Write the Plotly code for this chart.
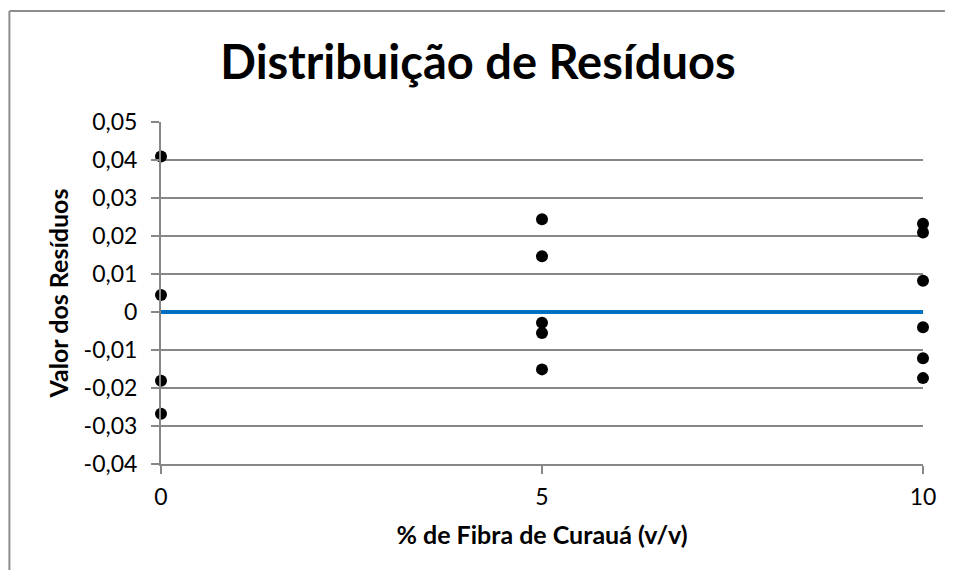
import plotly.graph_objects as go

# residuals
fibra_pct = [0, 0, 0, 0,
             5, 5, 5, 5, 5,
             10, 10, 10, 10, 10, 10]
residuos = [0.0409, 0.0045, -0.0181, -0.0268,
            0.0244, 0.0147, -0.0028, -0.0055, -0.0151,
            0.0232, 0.0209, 0.0082, -0.0040, -0.0122, -0.0174]

zero_x = [0, 10]
zero_y = [0, 0]

y_ticks = [0.05, 0.04, 0.03, 0.02, 0.01, 0, -0.01, -0.02, -0.03, -0.04]
y_tick_labels = ["0,05", "0,04", "0,03", "0,02", "0,01", "0",
                 "-0,01", "-0,02", "-0,03", "-0,04"]
x_ticks = [0, 5, 10]
x_tick_labels = ["0", "5", "10"]

grid_color = "#878787"
font_family = "Lato, 'Open Sans', sans-serif"

# body margin is 8px on each side; keep the figure small enough to avoid scrollbars
W, H = 940, 563
L, R, T, B = 153, 23, 114, 107
plot_w = W - L - R
plot_h = H - T - B

fig = go.Figure()

fig.add_trace(go.Scatter(
    x=zero_x, y=zero_y, mode="lines",
    line=dict(color="#0070C0", width=4),
    hoverinfo="skip", cliponaxis=False,
))

fig.add_trace(go.Scatter(
    x=fibra_pct, y=residuos, mode="markers",
    marker=dict(color="black", size=12),
    cliponaxis=False,
))

fig.update_layout(
    width=W, height=H,
    margin=dict(l=L, r=R, t=T, b=B),
    paper_bgcolor="white", plot_bgcolor="white",
    showlegend=False,
    font=dict(family=font_family, size=23, color="black"),
    title=dict(
        text="<b>Distribuição de Resíduos</b>",
        x=470 / W, xref="container", xanchor="center",
        y=1 - 55 / H, yref="container", yanchor="middle",
        font=dict(size=47, family=font_family, color="black"),
    ),
    xaxis=dict(
        range=[0, 10], tickvals=x_ticks, ticktext=x_tick_labels,
        showgrid=False, zeroline=False,
        showline=True, linecolor=grid_color, linewidth=2,
        ticks="outside", ticklen=8, tickcolor=grid_color, tickwidth=2,
        ticklabelstandoff=3,
        title=dict(text="<b>% de Fibra de Curauá (v/v)</b>",
                   font=dict(size=25), standoff=18),
    ),
    yaxis=dict(
        range=[-0.04, 0.05], tickvals=y_ticks, ticktext=y_tick_labels,
        showgrid=True, gridcolor=grid_color, gridwidth=1.5,
        zeroline=False,
        showline=True, linecolor=grid_color, linewidth=2,
        ticks="outside", ticklen=8, tickcolor=grid_color, tickwidth=1.5,
        ticklabelstandoff=9,
        title=dict(text="<b>Valor dos Resíduos</b>",
                   font=dict(size=25), standoff=8),
    ),
)

# outer chart frame: only the left and top edges are visible in the reference
frame_left = (1 - L) / plot_w
frame_top = 1 + (T - 3) / plot_h
frame_right = (W - 1 - L) / plot_w
frame_bottom = -(B - 1) / plot_h
frame_style = dict(color="#8c8c8c", width=2)
fig.add_shape(type="line", xref="paper", yref="paper",
              x0=frame_left, x1=frame_left, y0=frame_bottom, y1=frame_top,
              line=frame_style, layer="below")
fig.add_shape(type="line", xref="paper", yref="paper",
              x0=frame_left, x1=frame_right, y0=frame_top, y1=frame_top,
              line=frame_style, layer="below")

fig.write_html("out.html")
